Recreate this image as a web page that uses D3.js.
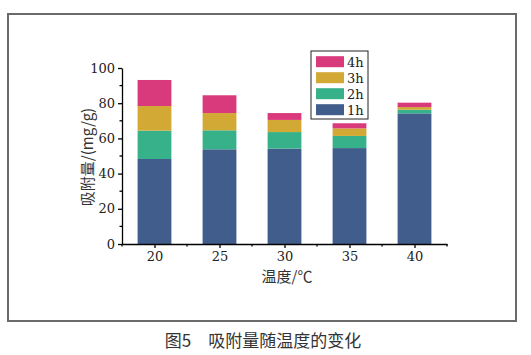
<!DOCTYPE html>
<html><head><meta charset="utf-8">
<script src="https://cdn.jsdelivr.net/npm/d3@7"></script>
<style>body{margin:0;background:#fff}svg{display:block}</style>
</head><body>
<script>
const categories = [20, 25, 30, 35, 40];
const seriesNames = ["1h", "2h", "3h", "4h"];
const s1h = [48.3, 53.8, 54.2, 54.5, 74.2];
const s2h = [16.1, 10.8, 9.4, 6.9, 2.1];
const s3h = [14.0, 9.8, 6.9, 4.3, 1.5];
const s4h = [14.8, 10.1, 3.9, 2.9, 2.5];
const yTicks = [0, 20, 40, 60, 80, 100];
const colors = ["#405d8c", "#37b189", "#d3a935", "#d93a7b"];
const xTitle = "温度/℃";
const yTitle = "吸附量/(mg/g)";
const caption = "图5　吸附量随温度的变化";

const W = 531, H = 355;
const svg = d3.select("body").append("svg").attr("width", W).attr("height", H);
svg.append("rect").attr("x", 8).attr("y", 14).attr("width", 508).attr("height", 307)
  .attr("fill", "none").attr("stroke", "#6a6a6a").attr("stroke-width", 2);

const x = d3.scaleLinear().domain([17.5, 42.5]).range([122, 447]);
const y = d3.scaleLinear().domain([0, 100]).range([244, 68]);
const serif = "DejaVu Serif, Liberation Serif, serif";

const rows = categories.map((c, i) => ({cat: c, "1h": s1h[i], "2h": s2h[i], "3h": s3h[i], "4h": s4h[i]}));
const stacked = d3.stack().keys(seriesNames)(rows);
const bw = x(22.6) - x(20);
svg.append("g").selectAll("g").data(stacked).join("g")
  .attr("fill", (d, i) => colors[i])
  .selectAll("rect").data(d => d).join("rect")
  .attr("x", d => x(d.data.cat) - bw / 2)
  .attr("width", bw)
  .attr("y", d => y(d[1]))
  .attr("height", d => y(d[0]) - y(d[1]));

// axes
const xAxis = d3.axisBottom(x).tickValues(categories).tickSize(4).tickSizeOuter(0).tickPadding(4);
const gx = svg.append("g").attr("transform", "translate(0,244)").call(xAxis);
gx.append("g").selectAll("line").data([17.5, 22.5, 27.5, 32.5, 37.5, 42.5]).join("line")
  .attr("x1", d => x(d)).attr("x2", d => x(d)).attr("y1", 0).attr("y2", 2.5).attr("stroke", "#000");
const yAxis = d3.axisLeft(y).tickValues(yTicks).tickSize(4).tickSizeOuter(0).tickPadding(3);
const gy = svg.append("g").attr("transform", "translate(122,0)").call(yAxis);
gy.append("g").selectAll("line").data([10, 30, 50, 70, 90]).join("line")
  .attr("x1", 0).attr("x2", -2.5).attr("y1", d => y(d)).attr("y2", d => y(d)).attr("stroke", "#000");
[gx, gy].forEach(g => {
  g.selectAll("path,line").attr("stroke", "#000").attr("stroke-width", 1.3);
  g.selectAll("text").attr("font-family", serif).attr("font-size", 13).attr("fill", "#222");
});

svg.append("text").attr("x", 287).attr("y", 282).attr("text-anchor", "middle")
  .attr("font-family", "Noto Sans CJK SC, sans-serif").attr("font-size", 15).attr("fill", "#333").text(xTitle);
svg.append("text").attr("transform", "translate(93,157) rotate(-90)").attr("text-anchor", "middle")
  .attr("font-family", "Noto Sans CJK SC, sans-serif").attr("font-size", 15).attr("fill", "#333").text(yTitle);

// legend
const lg = svg.append("g");
lg.append("rect").attr("x", 311).attr("y", 51).attr("width", 57).attr("height", 68)
  .attr("fill", "#fff").attr("stroke", "#222").attr("stroke-width", 1);
const order = [3, 2, 1, 0];
order.forEach((si, k) => {
  const cy = 61.7 + k * 16;
  lg.append("rect").attr("x", 316).attr("y", cy - 5.5).attr("width", 28).attr("height", 11).attr("fill", colors[si]);
  lg.append("text").attr("x", 347).attr("y", cy + 5).attr("font-family", serif).attr("font-size", 13)
    .attr("fill", "#222").text(seriesNames[si]);
});

svg.append("text").attr("x", 263).attr("y", 347).attr("text-anchor", "middle")
  .attr("font-family", "Noto Sans CJK SC, sans-serif").attr("font-size", 17).attr("fill", "#333").text(caption);
</script>
</body></html>
